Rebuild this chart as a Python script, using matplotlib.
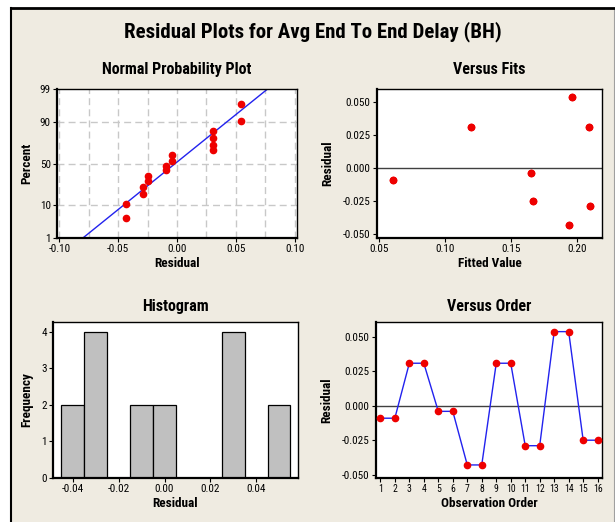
import matplotlib
matplotlib.use('Agg')
import matplotlib.pyplot as plt
import numpy as np
from statistics import NormalDist
from matplotlib import font_manager

names = set(f.name for f in font_manager.fontManager.ttflist)
fams = [f for f in ['DejaVu Sans Condensed', 'Liberation Sans Narrow', 'Roboto Condensed', 'DejaVu Sans'] if f in names]
plt.rcParams['font.family'] = fams
plt.rcParams['font.size'] = 8

# residuals in observation order, read from "Versus Order"
order = list(range(1, 17))
residuals = [-0.009, -0.009, 0.031, 0.031, -0.004, -0.004, -0.043, -0.043,
             0.031, 0.031, -0.029, -0.029, 0.054, 0.054, -0.025, -0.025]
# fitted values for the same observations (from "Versus Fits")
fitted = [0.061, 0.061, 0.120, 0.120, 0.165, 0.165, 0.194, 0.194,
          0.209, 0.209, 0.210, 0.210, 0.196, 0.196, 0.167, 0.167]
# histogram bins (centres) and counts
hist_centres = [-0.04, -0.03, -0.02, -0.01, 0.00, 0.01, 0.02, 0.03, 0.04, 0.05]
hist_counts = [2, 4, 0, 2, 2, 0, 0, 4, 0, 2]
# normal probability plot: sorted residuals and plotted percents
npp_resid = sorted(residuals)
npp_pct = [4.3, 10.5, 16.7, 22.8, 29.0, 35.2, 41.4, 47.5,
           53.7, 59.9, 66.0, 72.2, 78.4, 84.6, 90.7, 96.9]
# fitted line in the probability plot (residual at 1% and 99%)
line_x = [-0.080, 0.077]
line_p = [1, 99]

bg = '#efebe1'
nd = NormalDist()
z = lambda p: nd.inv_cdf(p / 100.0)

fig = plt.figure(figsize=(6.15, 5.22), dpi=100, facecolor='white')
W, H = 615.0, 522.0

# beige panel with black top/left border
panel = fig.add_axes([11 / W, 0, (614 - 11) / W, (522 - 8) / H])
panel.set_facecolor(bg)
panel.set_xticks([]); panel.set_yticks([])
panel.spines['bottom'].set_visible(False)
panel.spines['top'].set_linewidth(2)
panel.spines['left'].set_linewidth(1.5)
panel.spines['right'].set_color('#a0a0a0')
panel.set_zorder(-5)

fig.text(313 / W, 1 - 32 / H, 'Residual Plots for Avg End To End Delay (BH)',
         ha='center', va='center', fontsize=15, fontweight='bold')


def box(l, t, r, b):
    return [l / W, 1 - b / H, (r - l) / W, (b - t) / H]


def style(ax):
    ax.set_facecolor('white')
    for s in ax.spines.values():
        s.set_linewidth(1.0)
    ax.spines['left'].set_linewidth(1.6)
    ax.spines['bottom'].set_linewidth(1.6)
    ax.tick_params(direction='out', length=3, width=0.8, pad=1.5, labelsize=8)


lab = dict(fontweight='bold', fontsize=9.5)
tit = dict(fontweight='bold', fontsize=11.5)

# ---- Normal probability plot
ax1 = fig.add_axes(box(57, 89, 297, 238))
style(ax1)
for gx in np.arange(-0.10, 0.101, 0.025):
    ax1.axvline(gx, color='#c8c8c8', ls=(0, (5, 3)), lw=1, zorder=0)
for gy in [10, 50, 90]:
    ax1.axhline(z(gy), color='#c8c8c8', ls=(0, (5, 3)), lw=1, zorder=0)
ax1.plot(line_x, [z(p) for p in line_p], color='#2222ee', lw=1, zorder=2)
ax1.plot(npp_resid, [z(p) for p in npp_pct], 'o', color='#ee0000', ms=4.5, zorder=3)
ax1.set_xlim(-0.102, 0.102)
ax1.set_ylim(z(1), z(99))
ax1.set_xticks([-0.10, -0.05, 0.00, 0.05, 0.10])
ax1.set_xticklabels(['-0.10', '-0.05', '0.00', '0.05', '0.10'])
ax1.set_yticks([z(p) for p in [1, 10, 50, 90, 99]])
ax1.set_yticklabels(['1', '10', '50', '90', '99'])
ax1.set_xlabel('Residual', labelpad=2, **lab)
ax1.set_ylabel('Percent', labelpad=5, **lab)
ax1.set_title('Normal Probability Plot', pad=11, **tit)

# ---- Versus fits
ax2 = fig.add_axes(box(377, 89, 602, 238))
style(ax2)
ax2.axhline(0, color='#404040', lw=1)
ax2.plot(fitted, residuals, 'o', color='#ee0000', ms=4.5, zorder=3)
ax2.set_xlim(0.0487, 0.219)
ax2.set_ylim(-0.053, 0.060)
ax2.set_xticks([0.05, 0.10, 0.15, 0.20])
ax2.set_xticklabels(['0.05', '0.10', '0.15', '0.20'])
ax2.set_yticks([-0.05, -0.025, 0, 0.025, 0.05])
ax2.set_yticklabels(['-0.050', '-0.025', '0.000', '0.025', '0.050'])
ax2.set_xlabel('Fitted Value', labelpad=2, **lab)
ax2.set_ylabel('Residual', labelpad=6, **lab)
ax2.set_title('Versus Fits', pad=11, **tit)

# ---- Histogram
ax3 = fig.add_axes(box(53, 322, 298, 478))
style(ax3)
ax3.bar(hist_centres, hist_counts, width=0.01, color='#c0c0c0',
        edgecolor='black', linewidth=0.9)
ax3.set_xlim(-0.0487, 0.0583)
ax3.set_ylim(0, 4.26)
ax3.set_xticks([-0.04, -0.02, 0.00, 0.02, 0.04])
ax3.set_xticklabels(['-0.04', '-0.02', '0.00', '0.02', '0.04'])
ax3.set_yticks([0, 1, 2, 3, 4])
ax3.set_xlabel('Residual', labelpad=2, **lab)
ax3.set_ylabel('Frequency', labelpad=6, **lab)
ax3.set_title('Histogram', pad=8, **tit)

# ---- Versus order
ax4 = fig.add_axes(box(376, 322, 602, 478))
style(ax4)
ax4.axhline(0, color='#404040', lw=1)
ax4.plot(order, residuals, '-', color='#2222ee', lw=1, zorder=2)
ax4.plot(order, residuals, 'o', color='#ee0000', ms=4.5, zorder=3)
ax4.set_xlim(0.7, 16.3)
ax4.set_ylim(-0.0525, 0.061)
ax4.set_xticks(order)
ax4.tick_params(axis='x', labelsize=7)
ax4.set_yticks([-0.05, -0.025, 0, 0.025, 0.05])
ax4.set_yticklabels(['-0.050', '-0.025', '0.000', '0.025', '0.050'])
ax4.set_xlabel('Observation Order', labelpad=2, **lab)
ax4.set_ylabel('Residual', labelpad=6, **lab)
ax4.set_title('Versus Order', pad=8, **tit)

plt.savefig('out.png', dpi=100, facecolor='white')
